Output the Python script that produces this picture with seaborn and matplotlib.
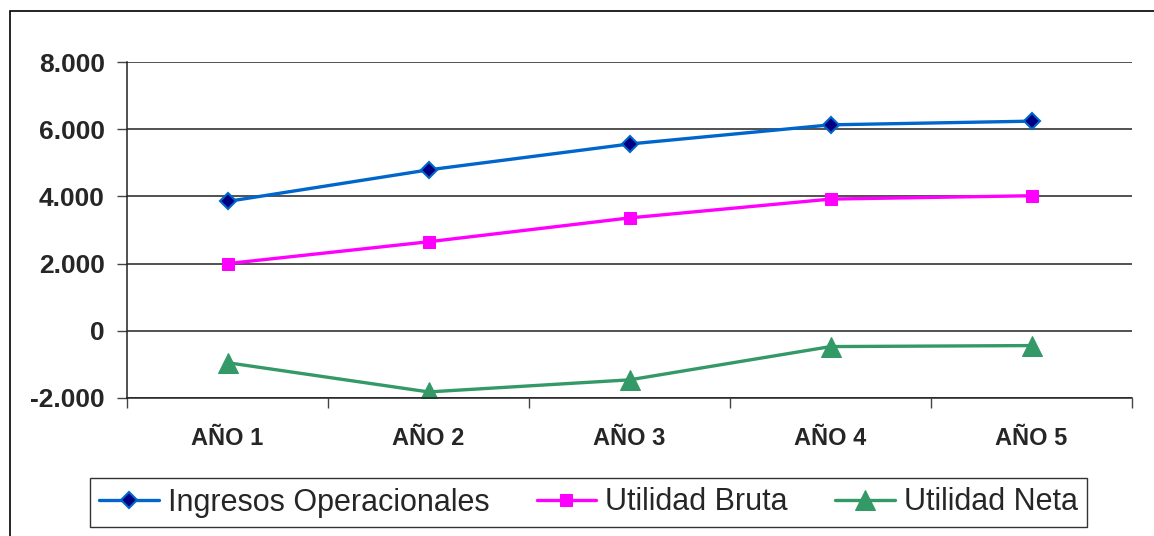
import numpy as np
import pandas as pd
import matplotlib
matplotlib.use("Agg")
import matplotlib.pyplot as plt
import seaborn as sns
from matplotlib.ticker import FuncFormatter, FixedLocator
from matplotlib.patches import Rectangle

sns.set_style("white")
plt.rcParams['font.family'] = ['Liberation Sans', 'DejaVu Sans']

# values
years = ['AÑO 1', 'AÑO 2', 'AÑO 3', 'AÑO 4', 'AÑO 5']
ingresos = [3850, 4790, 5560, 6130, 6240]
utilidad_bruta = [2000, 2650, 3360, 3920, 4020]
utilidad_neta = [-950, -1820, -1460, -470, -440]
y_ticks = [-2000, 0, 2000, 4000, 6000, 8000]

df = pd.DataFrame({'year': years, 'ingresos': ingresos,
                   'bruta': utilidad_bruta, 'neta': utilidad_neta})

fig = plt.figure(figsize=(11.54, 5.36), dpi=100)
ax = fig.add_axes([0.1101, 0.2575, 0.981 - 0.1101, 0.8843 - 0.2575])

# outer chart frame (cut by the image edges on the right/bottom)
fig.patches.append(Rectangle((10 / 1154, -0.1), 1.2, 1 - 11 / 536 + 0.1,
                             transform=fig.transFigure, fill=False,
                             edgecolor='black', linewidth=1.2))

sns.lineplot(data=df, x='year', y='ingresos', ax=ax, color='#0066cc', lw=2.4,
             marker='D', markersize=8, markerfacecolor='#000080',
             markeredgecolor='#0066cc', markeredgewidth=1.5,
             label='Ingresos Operacionales')
sns.lineplot(data=df, x='year', y='bruta', ax=ax, color='#ff00ff', lw=2.4,
             marker='s', markersize=9, markerfacecolor='#ff00ff',
             markeredgecolor='#ff00ff', label='Utilidad Bruta')
sns.lineplot(data=df, x='year', y='neta', ax=ax, color='#339966', lw=2.4,
             marker='^', markersize=15, markerfacecolor='#339966',
             markeredgecolor='#339966', label='Utilidad Neta')

ax.set_xlim(-0.5, len(years) - 0.5)
ax.set_ylim(y_ticks[0], y_ticks[-1])
ax.set_yticks(y_ticks)
ax.yaxis.set_major_formatter(FuncFormatter(lambda v, p: f"{int(v):,}".replace(',', '.')))
ax.grid(axis='y', color='#222222', linewidth=1.1)
ax.set_axisbelow(True)
ax.set_xlabel('')
ax.set_ylabel('')

ax.set_xticks(range(len(years)))
ax.set_xticklabels(years)
ax.xaxis.set_minor_locator(FixedLocator(np.arange(-0.5, len(years), 1.0)))
ax.tick_params(axis='x', which='major', length=0, pad=21, labelsize=17)
ax.tick_params(axis='x', which='minor', length=7, width=1, color='#444444', direction='out', bottom=True)
ax.tick_params(axis='y', length=7, width=1, color='#444444', direction='out', left=True, pad=9, labelsize=19)
for lbl in ax.get_xticklabels() + ax.get_yticklabels():
    lbl.set_fontweight('bold')

for side in ['top', 'right']:
    ax.spines[side].set_visible(False)
for side in ['left', 'bottom']:
    ax.spines[side].set_color('#222222')
    ax.spines[side].set_linewidth(1.1)

handles, labels = ax.get_legend_handles_labels()
ax.get_legend().remove()
leg = fig.legend(handles, labels, loc='center', bbox_to_anchor=(0.51, 0.0625),
                 ncol=3, fontsize=22, frameon=True, fancybox=False,
                 edgecolor='black', handlelength=1.95, handletextpad=0.3,
                 columnspacing=1.55, borderpad=0.3, borderaxespad=0)
leg.get_frame().set_linewidth(1.0)

fig.savefig('out.png', dpi=100)
